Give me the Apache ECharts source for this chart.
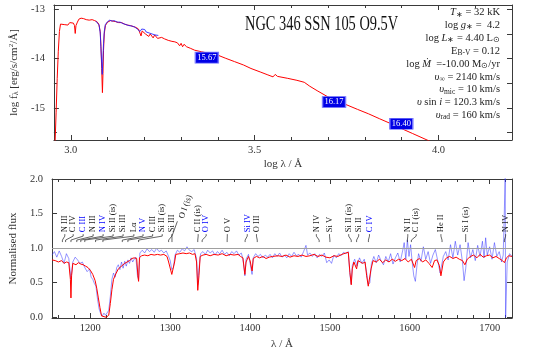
<!DOCTYPE html>
<html>
<head>
<meta charset="utf-8">
<script src="https://cdn.jsdelivr.net/npm/echarts@6/dist/echarts.min.js"></script>
<style>html,body{margin:0;padding:0;background:#fff}#chart{width:538px;height:351px}</style>
</head>
<body>
<div id="chart"></div>
<script>
// ---- SED panel: log lambda vs log f_lambda
const sedModelLogLam = [2.957, 2.960, 2.963, 2.966, 2.969, 2.972, 2.977, 2.982, 2.987, 2.992, 2.997, 3.002, 3.007, 3.010, 3.012, 3.014, 3.018, 3.022, 3.028, 3.035, 3.042, 3.050, 3.058, 3.065, 3.071, 3.076, 3.080, 3.082, 3.084, 3.086, 3.0875, 3.089, 3.091, 3.094, 3.100, 3.108, 3.115, 3.122, 3.130, 3.138, 3.146, 3.154, 3.162, 3.170, 3.178, 3.184, 3.188, 3.191, 3.194, 3.198, 3.203, 3.207, 3.212, 3.216, 3.220, 3.224, 3.228, 3.232, 3.236, 3.240, 3.247, 3.255, 3.265, 3.275, 3.283, 3.290, 3.296, 3.300, 3.304, 3.308, 3.315, 3.325, 3.337, 3.355, 3.380, 3.400, 3.420, 3.445, 3.470, 3.490, 3.515, 3.536, 3.550, 3.556, 3.562, 3.590, 3.615, 3.635, 3.650, 3.670, 3.698, 3.720, 3.748, 3.780, 3.810, 3.840, 3.874, 3.900, 3.930, 3.969, 4.000]
const sedModelLogF = [-15.75, -15.1, -14.4, -13.85, -13.45, -13.30, -13.27, -13.31, -13.28, -13.32, -13.27, -13.31, -13.28, -13.33, -13.49, -13.33, -13.26, -13.20, -13.18, -13.19, -13.21, -13.22, -13.21, -13.23, -13.25, -13.30, -13.45, -13.75, -14.20, -14.69, -14.30, -13.83, -13.50, -13.33, -13.26, -13.23, -13.24, -13.25, -13.27, -13.27, -13.30, -13.32, -13.33, -13.35, -13.37, -13.40, -13.43, -13.54, -13.44, -13.47, -13.50, -13.47, -13.55, -13.50, -13.53, -13.58, -13.52, -13.56, -13.59, -13.55, -13.57, -13.60, -13.63, -13.65, -13.66, -13.68, -13.74, -13.69, -13.76, -13.71, -13.76, -13.79, -13.83, -13.86, -13.90, -13.93, -13.99, -14.06, -14.13, -14.20, -14.27, -14.33, -14.37, -14.32, -14.36, -14.40, -14.44, -14.48, -14.56, -14.65, -14.77, -14.85, -14.93, -15.03, -15.12, -15.22, -15.33, -15.42, -15.52, -15.65, -15.75]
const sedObsLogLam = [3.068, 3.073, 3.077, 3.080, 3.082, 3.084, 3.0855, 3.087, 3.089, 3.091, 3.094, 3.100, 3.106, 3.112, 3.118, 3.126, 3.134, 3.142, 3.150, 3.158, 3.166, 3.174, 3.182, 3.188, 3.193, 3.197, 3.201, 3.205, 3.209, 3.213, 3.217, 3.221, 3.225, 3.229, 3.233, 3.238]
const sedObsLogF = [-13.24, -13.27, -13.32, -13.48, -13.80, -14.10, -14.32, -14.05, -13.70, -13.45, -13.31, -13.25, -13.22, -13.24, -13.23, -13.26, -13.26, -13.29, -13.31, -13.33, -13.34, -13.36, -13.41, -13.45, -13.40, -13.44, -13.41, -13.46, -13.42, -13.48, -13.45, -13.50, -13.47, -13.52, -13.49, -13.53]
const photLogLam = [3.370, 3.716, 3.899]
const photLogF = [-13.98, -14.88, -15.32]
const photMag = ['15.67', '16.17', '16.40']

// ---- normalised UV panel
const uvModelWl = [1152, 1156, 1160, 1164, 1167, 1170, 1173, 1175, 1175.7, 1176.5, 1178, 1182, 1185, 1188, 1191, 1194, 1197, 1200, 1203, 1206, 1208, 1210, 1212, 1214, 1216, 1220, 1223, 1225, 1227, 1229, 1232, 1235, 1238, 1240, 1243, 1246, 1249, 1252, 1255, 1258, 1259.5, 1260.4, 1261.5, 1264, 1268, 1272, 1276, 1280, 1284, 1288, 1292, 1296, 1298, 1300, 1302, 1304, 1305.5, 1307, 1312, 1316, 1320, 1324, 1328, 1331, 1333, 1334.5, 1336, 1337.5, 1341, 1345, 1350, 1355, 1360, 1365, 1370, 1375, 1380, 1385, 1388, 1391, 1393.5, 1395, 1398, 1400, 1402.5, 1404, 1408, 1412, 1416, 1420, 1424, 1428, 1430, 1435, 1440, 1445, 1450, 1455, 1460, 1465, 1470, 1475, 1480, 1485, 1490, 1495, 1500, 1505, 1510, 1515, 1520, 1523, 1525, 1526.7, 1528, 1530, 1533.4, 1535, 1538, 1541, 1544, 1546, 1548, 1550, 1551.5, 1554, 1558, 1562, 1566, 1570, 1574, 1578, 1582, 1586, 1590, 1594, 1598, 1602, 1606, 1608, 1612, 1616, 1620, 1624, 1628, 1631, 1634, 1637, 1639, 1640.5, 1642, 1646, 1650, 1654, 1658, 1662, 1666, 1669, 1672, 1676, 1680, 1684, 1688, 1692, 1696, 1700, 1704, 1708, 1712, 1716, 1718.5, 1721, 1724, 1728]
const uvModelFlux = [0.83, 0.82, 0.80, 0.82, 0.78, 0.80, 0.79, 0.55, 0.28, 0.60, 0.78, 0.76, 0.79, 0.77, 0.76, 0.74, 0.72, 0.68, 0.62, 0.53, 0.42, 0.28, 0.14, 0.02, 0.0, 0.0, 0.03, 0.20, 0.40, 0.55, 0.63, 0.70, 0.73, 0.75, 0.78, 0.80, 0.82, 0.85, 0.86, 0.85, 0.60, 0.52, 0.86, 0.89, 0.90, 0.89, 0.91, 0.90, 0.91, 0.90, 0.91, 0.88, 0.80, 0.78, 0.62, 0.60, 0.80, 0.91, 0.92, 0.93, 0.92, 0.93, 0.91, 0.92, 0.80, 0.39, 0.60, 0.88, 0.90, 0.91, 0.89, 0.91, 0.90, 0.92, 0.89, 0.91, 0.90, 0.91, 0.88, 0.86, 0.62, 0.80, 0.88, 0.82, 0.67, 0.85, 0.88, 0.86, 0.88, 0.85, 0.87, 0.88, 0.86, 0.89, 0.88, 0.90, 0.87, 0.89, 0.88, 0.90, 0.88, 0.89, 0.91, 0.88, 0.90, 0.87, 0.86, 0.89, 0.88, 0.91, 0.93, 0.94, 0.65, 0.47, 0.70, 0.80, 0.70, 0.82, 0.80, 0.78, 0.80, 0.60, 0.45, 0.43, 0.70, 0.82, 0.80, 0.84, 0.79, 0.83, 0.80, 0.84, 0.81, 0.84, 0.82, 0.85, 0.80, 0.84, 0.72, 0.82, 0.85, 0.80, 0.83, 0.78, 0.72, 0.82, 0.83, 0.75, 0.60, 0.62, 0.80, 0.86, 0.88, 0.85, 0.87, 0.84, 0.82, 0.76, 0.84, 0.88, 0.90, 0.86, 0.91, 0.87, 0.89, 0.90, 0.86, 0.88, 0.85, 0.82, 0.79, 0.86, 0.89, 0.88]
const uvObsWl = [1152, 1155, 1158, 1161, 1164, 1167, 1170, 1173, 1175.7, 1178, 1181, 1184, 1187, 1190, 1193, 1196, 1199, 1201, 1203, 1205, 1207, 1209, 1211, 1213, 1215, 1217, 1219, 1221, 1223, 1225, 1227, 1229, 1231, 1233, 1235, 1237, 1239, 1241, 1243, 1245, 1247, 1249, 1251, 1253, 1255, 1257, 1259, 1260.4, 1262, 1265, 1268, 1271, 1274, 1277, 1280, 1283, 1286, 1289, 1292, 1295, 1298, 1300, 1302, 1304, 1306, 1309, 1312, 1315, 1318, 1321, 1324, 1327, 1330, 1333, 1334.5, 1336, 1338, 1341, 1344, 1347, 1350, 1353, 1356, 1359, 1362, 1365, 1368, 1371, 1374, 1377, 1380, 1383, 1386, 1389, 1391, 1393.5, 1395, 1398, 1400, 1402.5, 1404, 1407, 1410, 1413, 1416, 1419, 1422, 1425, 1428, 1431, 1434, 1437, 1440, 1443, 1446, 1449, 1452, 1455, 1458, 1461, 1464, 1467, 1470, 1472, 1475, 1478, 1481, 1484, 1487, 1490, 1493, 1496, 1499, 1502, 1505, 1508, 1511, 1514, 1517, 1520, 1523, 1525, 1526.7, 1528, 1531, 1534, 1537, 1540, 1543, 1546, 1548, 1550, 1552, 1555, 1558, 1561, 1564, 1567, 1570, 1573, 1576, 1579, 1582, 1585, 1588, 1591, 1593, 1595, 1597, 1599, 1601, 1603, 1605, 1607, 1609, 1611, 1614, 1617, 1620, 1623, 1626, 1629, 1632, 1635, 1638, 1640, 1642, 1645, 1648, 1651, 1654, 1657, 1660, 1663, 1666, 1668, 1670, 1673, 1676, 1679, 1682, 1685, 1688, 1691, 1693, 1695, 1697, 1700, 1703, 1706, 1709, 1712, 1715, 1717, 1719.5, 1720, 1722, 1725, 1728]
const uvObsFlux = [0.90, 0.95, 0.87, 0.96, 0.88, 0.78, 0.92, 0.85, 0.55, 0.80, 0.87, 0.83, 0.78, 0.80, 0.72, 0.66, 0.70, 0.58, 0.55, 0.49, 0.45, 0.26, 0.12, 0.05, 0.02, 0.06, 0.03, 0.05, 0.10, 0.30, 0.55, 0.64, 0.58, 0.72, 0.76, 0.69, 0.80, 0.71, 0.81, 0.74, 0.83, 0.78, 0.86, 0.80, 0.84, 0.87, 0.60, 0.55, 0.93, 0.97, 0.93, 0.99, 0.95, 0.98, 0.94, 1.00, 0.95, 0.97, 0.93, 0.96, 0.88, 0.82, 0.69, 0.72, 0.90, 0.97, 0.94, 0.99, 0.96, 1.02, 0.97, 0.95, 0.98, 0.85, 0.47, 0.70, 0.92, 0.95, 0.91, 0.97, 0.93, 0.96, 0.90, 0.95, 0.92, 0.97, 0.91, 0.94, 0.89, 0.95, 0.92, 0.96, 0.90, 0.93, 0.85, 0.60, 0.84, 0.91, 0.78, 0.62, 0.86, 0.92, 0.88, 0.91, 0.86, 0.90, 0.87, 0.91, 0.86, 0.92, 0.88, 0.93, 0.87, 0.90, 0.86, 0.92, 0.88, 0.94, 0.89, 0.91, 0.87, 0.95, 1.04, 0.90, 0.93, 0.88, 0.92, 0.86, 0.91, 0.88, 0.93, 0.79, 0.83, 0.78, 0.90, 0.86, 0.92, 0.89, 0.94, 0.92, 0.95, 0.62, 0.48, 0.75, 0.84, 0.74, 0.86, 0.78, 0.84, 0.65, 0.47, 0.50, 0.78, 0.88, 0.79, 0.90, 0.82, 0.76, 0.88, 0.80, 0.92, 0.77, 0.86, 0.93, 0.80, 0.96, 1.08, 0.84, 1.12, 0.88, 1.05, 0.80, 0.60, 0.52, 0.75, 0.92, 0.81, 1.02, 0.84, 0.95, 0.78, 0.90, 0.98, 0.82, 0.64, 0.62, 0.88, 0.95, 0.83, 1.05, 0.86, 1.10, 0.90, 1.05, 0.80, 0.53, 0.70, 1.08, 0.86, 0.98, 0.82, 1.04, 0.88, 1.10, 0.86, 1.15, 0.90, 1.02, 0.84, 1.08, 0.88, 0.95, 0.80, 0.90, 2.04, 0.0, 0.80, 0.92, 0.88, 0.94]

// line identifications: label wavelength, rest wavelength of the line
const idNames = ['N III', 'C IV', 'C III', 'N III', 'N IV', 'Si II (is)', 'Si III', 'Lα', 'N V', 'C III', 'Si II (is)', 'Si III', 'O I (is)', 'C II (is)', 'O IV', 'O V', 'Si IV', 'O III', 'N IV', 'Si V', 'Si II (is)', 'Si II', 'C IV', 'N II', 'C I (is)', 'He II', 'Si I (is)', 'N IV']
const idLabelWl = [1168, 1178.5, 1191, 1203.5, 1216, 1228.5, 1241, 1254.5, 1266, 1278, 1290, 1302, 1314, 1335, 1345, 1371.5, 1396.5, 1408, 1483, 1499.5, 1523.5, 1536, 1549.5, 1597.5, 1608, 1639, 1670, 1720]
const idLineWl = [1165, 1169, 1175.7, 1183, 1188, 1193, 1206.5, 1215.7, 1240, 1247, 1260.4, 1298, 1302.2, 1334.5, 1340, 1371.3, 1393.8, 1409, 1486.5, 1500, 1526.7, 1533.4, 1548.2, 1597, 1602, 1640.4, 1670, 1718.5]
const idBlue = [0, 0, 1, 0, 1, 0, 0, 0, 1, 0, 0, 0, 0, 0, 1, 0, 1, 0, 0, 0, 0, 0, 1, 0, 0, 0, 0, 0]

// ticks
const sedMajorX = [3.0, 3.5, 4.0]
const sedMinorX = [3.1, 3.2, 3.3, 3.4, 3.6, 3.7, 3.8, 3.9, 4.1]
const sedMajorY = [-15, -14, -13]
const sedMinorY = [-15.5, -14.5, -13.5]
const uvMajorX = [1200, 1300, 1400, 1500, 1600, 1700]
const uvMinorX = [1160, 1180, 1220, 1240, 1260, 1280, 1320, 1340, 1360, 1380, 1420, 1440, 1460, 1480, 1520, 1540, 1560, 1580, 1620, 1640, 1660, 1680, 1720]
const uvMajorY = [0, 0.5, 1.0, 1.5, 2.0]

const FRAME = '#3a3a3a'
const SERIF = 'Liberation Serif'
const zip = (a, b) => a.map((v, i) => [v, b[i]])

function ax(o) {
  return {
    type: 'value', gridIndex: o.grid, min: o.min, max: o.max, position: o.pos,
    splitLine: { show: false },
    axisLine: { show: !!o.line, onZero: false, lineStyle: { color: FRAME, width: 1 } },
    axisTick: { show: true, inside: true, length: o.len, customValues: o.ticks, lineStyle: { color: FRAME, width: 1 } },
    axisLabel: o.labels ? {
      show: true, customValues: o.labels, formatter: o.fmt, margin: o.margin,
      fontFamily: SERIF, fontSize: 10.5, color: '#333'
    } : { show: false },
    name: o.name || '', nameLocation: 'middle', nameGap: o.nameGap, nameRotate: o.nameRotate,
    nameTextStyle: { fontFamily: SERIF, fontSize: 11, color: '#333', rich: o.rich || {} }
  }
}

const SED_X = [2.954, 4.2], SED_Y = [-15.65, -12.913]
const UV_X = [1152, 1728], UV_Y = [-0.01, 2.0]
const f1 = v => v.toFixed(1)

const xAxis = [
  ax({ grid: 0, min: SED_X[0], max: SED_X[1], pos: 'bottom', line: 1, len: 5, ticks: sedMajorX, labels: sedMajorX, fmt: f1, margin: 5, name: 'log λ / Å', nameGap: 19 }),
  ax({ grid: 0, min: SED_X[0], max: SED_X[1], pos: 'bottom', len: 3, ticks: sedMinorX }),
  ax({ grid: 0, min: SED_X[0], max: SED_X[1], pos: 'top', line: 1, len: 5, ticks: sedMajorX }),
  ax({ grid: 0, min: SED_X[0], max: SED_X[1], pos: 'top', len: 3, ticks: sedMinorX }),
  ax({ grid: 1, min: UV_X[0], max: UV_X[1], pos: 'bottom', line: 1, len: 5, ticks: uvMajorX, labels: uvMajorX, fmt: v => String(v), margin: 5, name: 'λ / Å', nameGap: 21 }),
  ax({ grid: 1, min: UV_X[0], max: UV_X[1], pos: 'bottom', len: 3, ticks: uvMinorX }),
  ax({ grid: 1, min: UV_X[0], max: UV_X[1], pos: 'top', line: 1, len: 5, ticks: uvMajorX }),
  ax({ grid: 1, min: UV_X[0], max: UV_X[1], pos: 'top', len: 3, ticks: uvMinorX })
]
const yAxis = [
  ax({ grid: 0, min: SED_Y[0], max: SED_Y[1], pos: 'left', line: 1, len: 5, ticks: sedMajorY, labels: sedMajorY, fmt: v => String(Math.round(v)), margin: 9,
       name: 'log f{s|λ} [erg/s/cm{p|2}/Å]', nameGap: 24, nameRotate: 90,
       rich: { s: { fontFamily: SERIF, fontSize: 8, color: '#333', verticalAlign: 'bottom', padding: [4, 0, 0, 0] },
               p: { fontFamily: SERIF, fontSize: 7, color: '#333', verticalAlign: 'top' } } }),
  ax({ grid: 0, min: SED_Y[0], max: SED_Y[1], pos: 'left', len: 3, ticks: sedMinorY }),
  ax({ grid: 0, min: SED_Y[0], max: SED_Y[1], pos: 'right', line: 1, len: 5, ticks: sedMajorY.concat(sedMinorY) }),
  ax({ grid: 1, min: UV_Y[0], max: UV_Y[1], pos: 'left', line: 1, len: 5, ticks: uvMajorY, labels: uvMajorY, fmt: f1, margin: 9,
       name: 'Normalised flux', nameGap: 24, nameRotate: 90 }),
  ax({ grid: 1, min: UV_Y[0], max: UV_Y[1], pos: 'right', line: 1, len: 5, ticks: uvMajorY })
]

// parameter block (right aligned)
const paramLines = [
  '{i|T}{s|∗} = 32 kK',
  'log {i|g}{s|∗} =  4.2',
  'log {i|L}{s|∗} = 4.40 L{s|⊙}',
  'E{s|B-V} = 0.12',
  'log {i|Ṁ}  =-10.00 M{s|⊙}/yr',
  '{i|υ}{s|∞} = 2140 km/s',
  '{i|υ}{s|mic} = 10 km/s',
  '{i|υ} sin {i|i} = 120.3 km/s',
  '{i|υ}{s|rad} = 160 km/s'
]
const rich = {
  i: { fontFamily: SERIF, fontSize: 10.5, fontStyle: 'italic', fill: '#222', color: '#222' },
  s: { fontFamily: SERIF, fontSize: 7.5, fill: '#222', color: '#222', verticalAlign: 'bottom', padding: [4, 0, 0, 0] }
}
const graphic = [{
  type: 'text', x: 245, y: 24.5, scaleX: 0.72,
  style: { text: 'NGC 346 SSN 105 O9.5V', font: '20px ' + SERIF, fill: '#111', align: 'left', verticalAlign: 'middle' }
}].concat(paramLines.map((t, k) => ({
  type: 'text', x: 500, y: 12.7 + k * 12.83,
  style: { text: t, rich: rich, font: '10.5px ' + SERIF, fill: '#222', align: 'right', verticalAlign: 'middle' }
})))

const chart = echarts.init(document.getElementById('chart'), null, { renderer: 'canvas' })
chart.setOption({
  animation: false,
  backgroundColor: '#fff',
  grid: [
    { left: 52, top: 5, width: 460, height: 135 },
    { left: 52, top: 179, width: 460, height: 141 }
  ],
  xAxis: xAxis,
  yAxis: yAxis,
  graphic: graphic,
  series: [
    { type: 'line', xAxisIndex: 0, yAxisIndex: 0, data: zip(sedModelLogLam, sedModelLogF), showSymbol: false,
      lineStyle: { color: '#ff0000', width: 1 }, z: 3 },
    { type: 'line', xAxisIndex: 0, yAxisIndex: 0, data: zip(sedObsLogLam, sedObsLogF), showSymbol: false,
      lineStyle: { color: 'rgba(30,30,255,0.85)', width: 1 }, z: 4 },
    { type: 'scatter', xAxisIndex: 0, yAxisIndex: 0, data: photLogLam.map((v, i) => [v, photLogF[i], photMag[i]]),
      symbol: 'rect', symbolSize: [23, 11], z: 5,
      itemStyle: { color: '#0000e6', borderColor: '#7a7aff', borderWidth: 1, opacity: 1 },
      label: { show: true, position: 'inside', formatter: p => p.value[2], color: '#fff', fontFamily: SERIF, fontSize: 8.5 } },
    { type: 'line', xAxisIndex: 4, yAxisIndex: 3, data: zip(uvObsWl, uvObsFlux), showSymbol: false,
      lineStyle: { color: 'rgba(40,40,255,0.55)', width: 0.9 }, z: 3,
      markLine: { silent: true, symbol: 'none', label: { show: false }, lineStyle: { color: '#a0a0a0', type: 'solid', width: 1 }, data: [{ yAxis: 1 }] } },
    { type: 'line', xAxisIndex: 4, yAxisIndex: 3, data: zip(uvModelWl, uvModelFlux), showSymbol: false,
      lineStyle: { color: '#ff0000', width: 1 }, z: 4 },
    { type: 'custom', xAxisIndex: 4, yAxisIndex: 3, clip: false, z: 6,
      data: idLabelWl.map((w, i) => [w, idLineWl[i]]),
      encode: { x: [0, 1] },
      renderItem: function (params, api) {
        const i = params.dataIndex
        const lab = api.value(0), line = api.value(1)
        const color = idBlue[i] ? '#0000ff' : '#222'
        let p0, pts, rot = Math.PI / 2
        if (idNames[i] === 'O I (is)') {
          rot = Math.PI * 70 / 180
          p0 = api.coord([lab, 1.431])
          pts = [api.coord([lab - 5, 1.388]), api.coord([line, 1.174]), api.coord([line, 1.088])]
        } else {
          p0 = api.coord([lab, 1.231])
          pts = [api.coord([lab, 1.203]), api.coord([lab, 1.174]), api.coord([line, 1.117]), api.coord([line, 1.088])]
        }
        return {
          type: 'group',
          children: [
            { type: 'text', x: p0[0], y: p0[1], rotation: rot,
              style: { text: idNames[i], fill: color, font: '8.5px ' + SERIF, align: 'left', verticalAlign: 'middle' } },
            { type: 'polyline', shape: { points: pts }, style: { stroke: '#222', lineWidth: 0.7, fill: null } }
          ]
        }
      }
    }
  ]
})
</script>
</body>
</html>
